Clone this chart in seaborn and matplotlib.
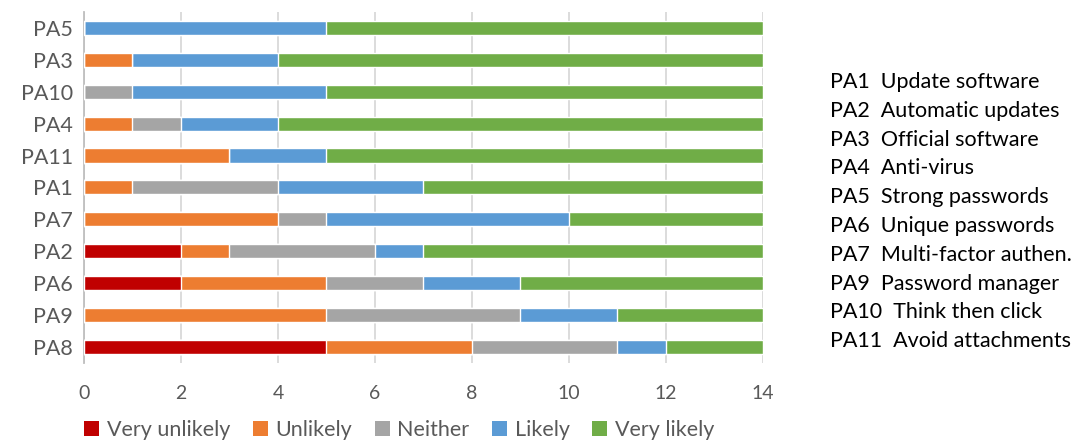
import numpy as np
import pandas as pd
import seaborn as sns
import matplotlib.pyplot as plt
from matplotlib.patches import Patch

# Protective actions, top to bottom
items = ["PA5", "PA3", "PA10", "PA4", "PA11", "PA1", "PA7", "PA2", "PA6", "PA9", "PA8"]

# Number of respondents per response level
very_unlikely = [0, 0, 0, 0, 0, 0, 0, 2, 2, 0, 5]
unlikely      = [0, 1, 0, 1, 3, 1, 4, 1, 3, 5, 3]
neither       = [0, 0, 1, 1, 0, 3, 1, 3, 2, 4, 3]
likely        = [5, 3, 4, 2, 2, 3, 5, 1, 2, 2, 1]
very_likely   = [9, 10, 9, 10, 9, 7, 4, 7, 5, 3, 2]

responses = ["Very unlikely", "Unlikely", "Neither", "Likely", "Very likely"]
colors = ["#C00000", "#ED7D31", "#A5A5A5", "#5B9BD5", "#70AD47"]

descriptions = [
    "PA1  Update software",
    "PA2  Automatic updates",
    "PA3  Official software",
    "PA4  Anti-virus",
    "PA5  Strong passwords",
    "PA6  Unique passwords",
    "PA7  Multi-factor authen.",
    "PA9  Password manager",
    "PA10  Think then click",
    "PA11  Avoid attachments",
]

sns.set_theme(style="white")
plt.rcParams["font.family"] = ["Lato", "DejaVu Sans"]

counts = np.array([very_unlikely, unlikely, neither, likely, very_likely])
cumulative = counts.cumsum(axis=0)

df = pd.DataFrame({"item": items})
for name, cum in zip(responses, cumulative):
    df[name] = cum

fig = plt.figure(figsize=(10.73, 4.40), dpi=100)
ax = fig.add_axes([0.0783, 0.175, 0.6325, 0.798])

# Stacked bars: draw cumulative totals from the widest down
for name, color in reversed(list(zip(responses, colors))):
    sns.barplot(data=df, x=name, y="item", order=items, orient="h",
                color=color, width=0.44, saturation=1, ax=ax, zorder=3)

ax.set_xlim(0, 14)
ax.set_ylim(10.5, -0.5)
ax.set_xticks(range(0, 15, 2))
ax.set_xlabel("")
ax.set_ylabel("")
ax.xaxis.grid(True, color="#D9D9D9", linewidth=1.3, zorder=0)
ax.yaxis.grid(False)
ax.set_axisbelow(True)
for side in ["top", "right", "bottom"]:
    ax.spines[side].set_visible(False)
ax.spines["left"].set_color("#BFBFBF")
ax.spines["left"].set_linewidth(1.3)
ax.tick_params(axis="x", length=0, pad=16, labelsize=14, labelcolor="#595959")
ax.tick_params(axis="y", length=0, pad=8, labelsize=15.5, labelcolor="#595959")

handles = [Patch(facecolor=c, edgecolor="none", label=r) for r, c in zip(responses, colors)]
fig.legend(handles=handles, loc="center", bbox_to_anchor=(0.372, 0.022), ncol=5,
           frameon=False, fontsize=15.5, handlelength=0.7, handleheight=0.7,
           handletextpad=0.35, columnspacing=1.05, labelcolor="#595959")

y0 = 82
for i, text in enumerate(descriptions):
    fig.text(830 / 1073, 1 - (y0 + i * 28.8) / 440, text, fontsize=15.5,
             color="#000000", ha="left", va="center")

fig.savefig("out.png", dpi=100)
